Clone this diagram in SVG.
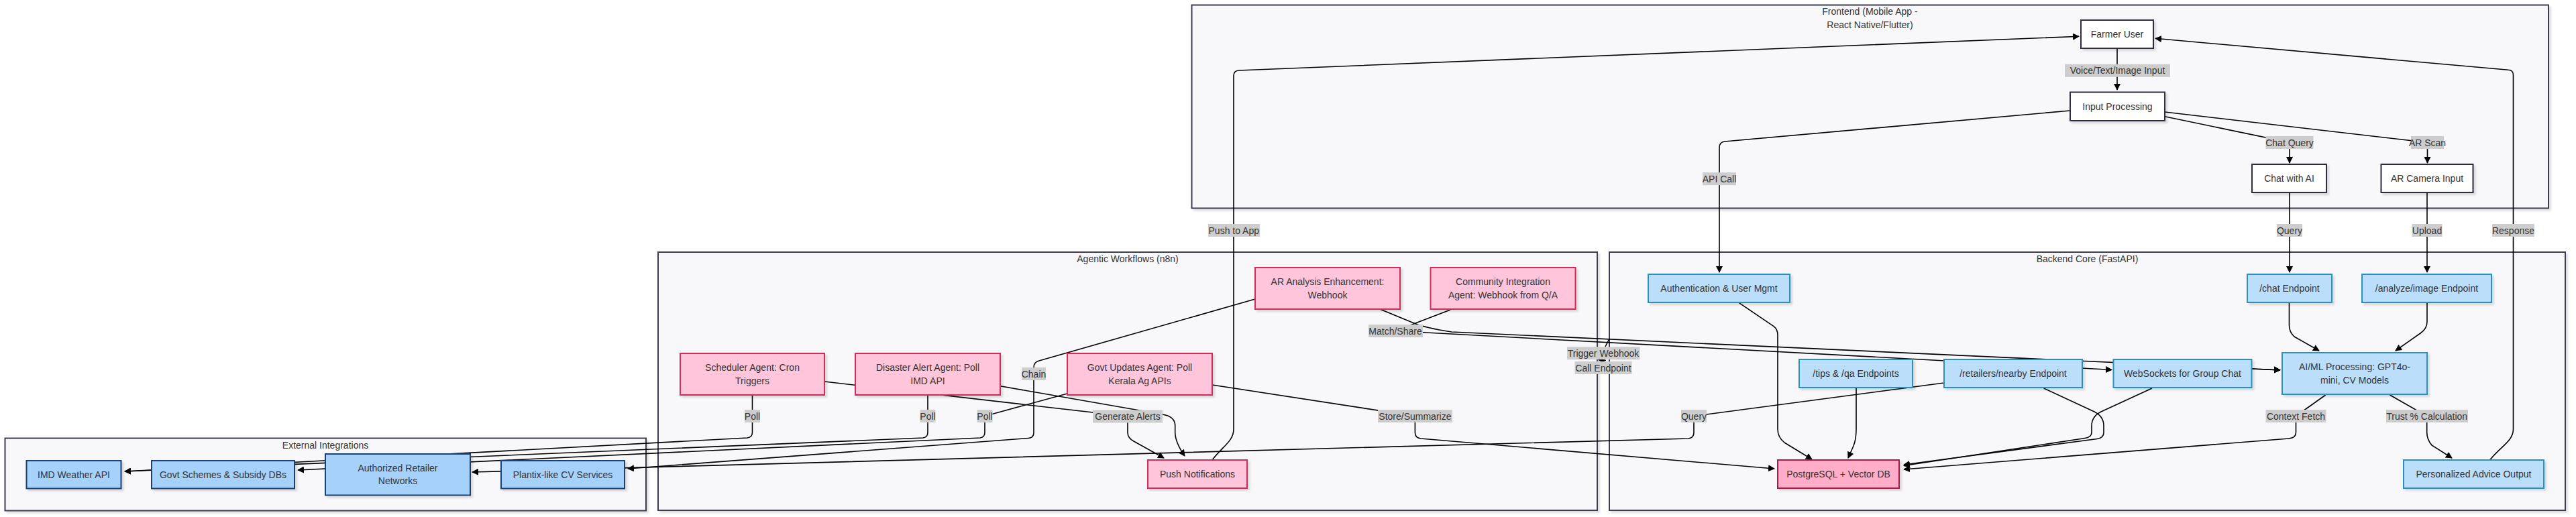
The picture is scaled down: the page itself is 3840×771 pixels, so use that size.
<svg xmlns="http://www.w3.org/2000/svg" width="3840" height="771" viewBox="0 0 3840 771">
<defs>
<style>
text{font-family:"Liberation Sans",Arial,sans-serif;font-size:14px;fill:#333;text-anchor:middle;dominant-baseline:central}
.cl{fill:#f8f8fa;stroke:#3d3d4f;stroke-width:2}
.fe{fill:#ffffff;stroke:#2f2f3f;stroke-width:2}
.be{fill:#bbdefb;stroke:#2a90bd;stroke-width:2}
.ag{fill:#ffc5da;stroke:#d52a5a;stroke-width:2}
.db{fill:#ffadc9;stroke:#b5184a;stroke-width:2}
.ex{fill:#a5d1fa;stroke:#1d3f72;stroke-width:2}
.e{fill:none;stroke:#000;stroke-width:1.6}
.a{marker-end:url(#arr)}
.lb{fill:#cdcdcd}
.sh{filter:url(#shadow)}
</style>
<marker id="arr" viewBox="0 0 10 10" refX="9" refY="5" markerWidth="10" markerHeight="10" markerUnits="userSpaceOnUse" orient="auto">
<path d="M0,0 L10,5 L0,10 z" fill="#000"/>
</marker>
<filter id="shadow" x="-10%" y="-10%" width="130%" height="140%">
<feDropShadow dx="3" dy="3" stdDeviation="1.5" flood-color="#000" flood-opacity="0.13"/>
</filter>
</defs>
<rect width="3840" height="771" fill="#ffffff"/>

<g id="clusters">
<g id="cluster-frontend">
<rect class="cl sh" x="1776.5" y="7.5" width="2022.5" height="303"/>
<text x="2787.5" y="16.7">Frontend (Mobile App -</text>
<text x="2787.5" y="36.7">React Native/Flutter)</text>
</g>
<g id="cluster-agentic">
<rect class="cl sh" x="981" y="376" width="1400" height="385"/>
<text x="1681" y="385.7">Agentic Workflows (n8n)</text>
</g>
<g id="cluster-backend">
<rect class="cl sh" x="2399" y="376" width="1425" height="385"/>
<text x="3111.5" y="385.7">Backend Core (FastAPI)</text>
</g>
<g id="cluster-external">
<rect class="cl sh" x="7.5" y="653.5" width="955.5" height="108"/>
<text x="485" y="664">External Integrations</text>
</g>
</g>

<g id="connectors">
<path class="e a" d="M3156,72 L3156,134"/>
<path class="e a" d="M3227,173.7 L3413,212.5 L3413,243"/>
<path class="e a" d="M3227,167 L3618.5,212.5 L3618.5,243"/>
<path class="e a" d="M3086,165 L2571,211 Q2563,212 2563,220 L2563,406"/>
<path class="e a" d="M1807,686 C1822,666 1839,658 1839,640 L1839,113 Q1839,105.3 1847,105 L3099,54.3"/>
<path class="e a" d="M3711.6,686 C3727,666 3746.5,658 3746.5,640 L3746.5,112 Q3746.5,104.5 3739,104.3 L3213,57.3"/>
<path class="e a" d="M3413,287 L3413,406"/>
<path class="e a" d="M3618,287 L3618,406"/>
<path class="e a" d="M2592.4,451.7 L2644,486.7 Q2650,491 2650,500 L2650,640 Q2650,652 2660,660 L2701,685"/>
<path class="e a" d="M2767,578 L2767,640 Q2767,655 2763,665 L2755,683"/>
<path class="e a" d="M3046.5,579 L3122,614 Q3136,621 3136,635 L3136,645 Q3136,653 3126,654.5 L2838,693"/>
<path class="e a" d="M3208,579 L3132,614 Q3118,621 3118,635 L3118,645 Q3118,652 3108,653.5 L2838,694.5"/>
<path class="e a" d="M3466.7,589 L3422.5,620.5 L3422.5,645 Q3422.5,653 3412,654 L2838,700"/>
<path class="e a" d="M3562.5,589 L3617.7,620.5 L3617.7,645 Q3617.7,655 3625,664 L3655,683"/>
<path class="e a" d="M3412.5,451 L3412.5,485 Q3412.5,495 3420,502 L3457,523"/>
<path class="e a" d="M3618,451 L3618,480 Q3618,490 3608,497 L3571,523"/>
<path class="e a" d="M3356.5,550 L3399,551.7"/>
<path class="e a" d="M2162,462 L2080,493.5 L3148,551.5"/>
<path class="e a" d="M2057,461 L2108,482 Q2125,489 2164,495 L3399,552"/>
<path class="e" d="M2399,505 L2393,517"/>
<path class="e a" d="M2394,537.5 L2383,536.5"/>
<path class="e a" d="M1871,446 L1549,538 Q1541,540 1541,548 L1541,645 Q1541,653 1533,653.5 L936,699"/>
<path class="e a" d="M1121.5,589 L1121.5,645 Q1121.5,652 1114,653 L186,703"/>
<path class="e a" d="M1383,589 L1383,645 Q1383,652 1376,653 L186,703"/>
<path class="e a" d="M1591,587 L1468,620.5 L1468,645 Q1468,652 1461,653 L444,701"/>
<path class="e a" d="M1229,569 L1681,621 L1681,645 Q1681,653 1690,658 L1735,683"/>
<path class="e a" d="M1491,575.7 L1733,618 Q1751.7,621 1751.7,635 L1751.7,645 Q1752,660 1766,680"/>
<path class="e a" d="M1807,574 L2109.4,620.5 L2109.4,645 Q2109.4,653 2118,654 L2645,699"/>
<path class="e a" d="M2898,571 L2525,620.5 L2525,645 Q2525,653 2517,654 L704,704"/>
</g>

<g id="edge-labels">
<rect class="lb" x="3078" y="95.8" width="157" height="19"/><text x="3156.5" y="105.3">Voice/Text/Image Input</text>
<rect class="lb" x="3377.5" y="203" width="71" height="19"/><text x="3413" y="212.5">Chat Query</text>
<rect class="lb" x="3594" y="203" width="49" height="19"/><text x="3618.5" y="212.5">AR Scan</text>
<rect class="lb" x="2538" y="257.2" width="50" height="19"/><text x="2563" y="266.7">API Call</text>
<rect class="lb" x="1801" y="334" width="77" height="19"/><text x="1839.3" y="343.5">Push to App</text>
<rect class="lb" x="3394" y="334" width="38" height="19"/><text x="3413" y="343.5">Query</text>
<rect class="lb" x="3595.5" y="334" width="45" height="19"/><text x="3618" y="343.5">Upload</text>
<rect class="lb" x="3715" y="334" width="63" height="19"/><text x="3746.5" y="343.5">Response</text>
<rect class="lb" x="1110" y="611" width="23" height="19"/><text x="1121.5" y="620.5">Poll</text>
<rect class="lb" x="1371.5" y="611" width="23" height="19"/><text x="1383" y="620.5">Poll</text>
<rect class="lb" x="1456.5" y="611" width="23" height="19"/><text x="1468" y="620.5">Poll</text>
<rect class="lb" x="1523" y="548" width="36" height="19"/><text x="1541" y="557.5">Chain</text>
<rect class="lb" x="1629" y="611.5" width="104" height="19"/><text x="1681" y="621">Generate Alerts</text>
<rect class="lb" x="2054" y="611" width="111" height="19"/><text x="2109.4" y="620.5">Store/Summarize</text>
<rect class="lb" x="2040" y="484" width="81" height="19"/><text x="2080" y="493.5">Match/Share</text>
<rect class="lb" x="2336" y="517.2" width="108.5" height="19"/><text x="2390" y="526.7">Trigger Webhook</text>
<rect class="lb" x="2347.5" y="539" width="85" height="19"/><text x="2390" y="548.5">Call Endpoint</text>
<rect class="lb" x="2506" y="611" width="38" height="19"/><text x="2525" y="620.5">Query</text>
<rect class="lb" x="3377.5" y="611" width="90" height="19"/><text x="3422.5" y="620.5">Context Fetch</text>
<rect class="lb" x="3557" y="611" width="122" height="19"/><text x="3617.7" y="620.5">Trust % Calculation</text>
</g>

<g id="node-farmer"><rect class="fe sh" x="3102" y="30" width="108" height="42"/><text x="3156" y="51">Farmer User</text></g>
<g id="node-input"><rect class="fe sh" x="3086" y="137.5" width="141" height="42.5"/><text x="3156.5" y="158.7">Input Processing</text></g>
<g id="node-chatai"><rect class="fe sh" x="3357" y="245" width="111" height="42"/><text x="3412.5" y="266">Chat with AI</text></g>
<g id="node-arcam"><rect class="fe sh" x="3549.5" y="245" width="137" height="42"/><text x="3618" y="266">AR Camera Input</text></g>

<g id="node-auth"><rect class="be sh" x="2457" y="409" width="211" height="42"/><text x="2562.5" y="430">Authentication &amp; User Mgmt</text></g>
<g id="node-chat"><rect class="be sh" x="3350" y="409" width="126" height="42"/><text x="3413" y="430">/chat Endpoint</text></g>
<g id="node-analyze"><rect class="be sh" x="3521" y="409" width="193" height="42"/><text x="3617.5" y="430">/analyze/image Endpoint</text></g>
<g id="node-tips"><rect class="be sh" x="2682" y="536" width="169" height="42"/><text x="2766.5" y="557">/tips &amp; /qa Endpoints</text></g>
<g id="node-retailers"><rect class="be sh" x="2898" y="536" width="206" height="42"/><text x="3001" y="557">/retailers/nearby Endpoint</text></g>
<g id="node-ws"><rect class="be sh" x="3150.5" y="536" width="206" height="42"/><text x="3253.5" y="557">WebSockets for Group Chat</text></g>
<g id="node-aiml"><rect class="be sh" x="3402" y="526" width="216" height="62"/><text x="3510" y="547.3">AI/ML Processing: GPT4o-</text><text x="3510" y="566.7">mini, CV Models</text></g>
<g id="node-db"><rect class="db sh" x="2650" y="686" width="181" height="42"/><text x="2740.5" y="707">PostgreSQL + Vector DB</text></g>
<g id="node-advice"><rect class="be sh" x="3583" y="686" width="209" height="42"/><text x="3687.5" y="707">Personalized Advice Output</text></g>

<g id="node-aranalysis"><rect class="ag sh" x="1871" y="399" width="216" height="62"/><text x="1979" y="420.3">AR Analysis Enhancement:</text><text x="1979" y="439.7">Webhook</text></g>
<g id="node-community"><rect class="ag sh" x="2132.5" y="399" width="216" height="62"/><text x="2240.5" y="420.3">Community Integration</text><text x="2240.5" y="439.7">Agent: Webhook from Q/A</text></g>
<g id="node-scheduler"><rect class="ag sh" x="1014" y="527" width="215" height="62"/><text x="1121.5" y="548.3">Scheduler Agent: Cron</text><text x="1121.5" y="567.7">Triggers</text></g>
<g id="node-disaster"><rect class="ag sh" x="1275" y="527" width="216" height="62"/><text x="1383" y="548.3">Disaster Alert Agent: Poll</text><text x="1383" y="567.7">IMD API</text></g>
<g id="node-govtupdates"><rect class="ag sh" x="1591" y="527" width="216" height="62"/><text x="1699" y="548.3">Govt Updates Agent: Poll</text><text x="1699" y="567.7">Kerala Ag APIs</text></g>
<g id="node-push"><rect class="ag sh" x="1711" y="686" width="148" height="42"/><text x="1785" y="707">Push Notifications</text></g>

<g id="node-imd"><rect class="ex sh" x="39.5" y="687" width="141" height="41.5"/><text x="110" y="707.7">IMD Weather API</text></g>
<g id="node-govtschemes"><rect class="ex sh" x="226" y="687" width="213" height="41.5"/><text x="332.5" y="707.7">Govt Schemes &amp; Subsidy DBs</text></g>
<g id="node-retailnet"><rect class="ex sh" x="485" y="677" width="216" height="61.5"/><text x="593" y="698">Authorized Retailer</text><text x="593" y="717.4">Networks</text></g>
<g id="node-plantix"><rect class="ex sh" x="747" y="687" width="184" height="41.5"/><text x="839" y="707.7">Plantix-like CV Services</text></g>
</svg>
